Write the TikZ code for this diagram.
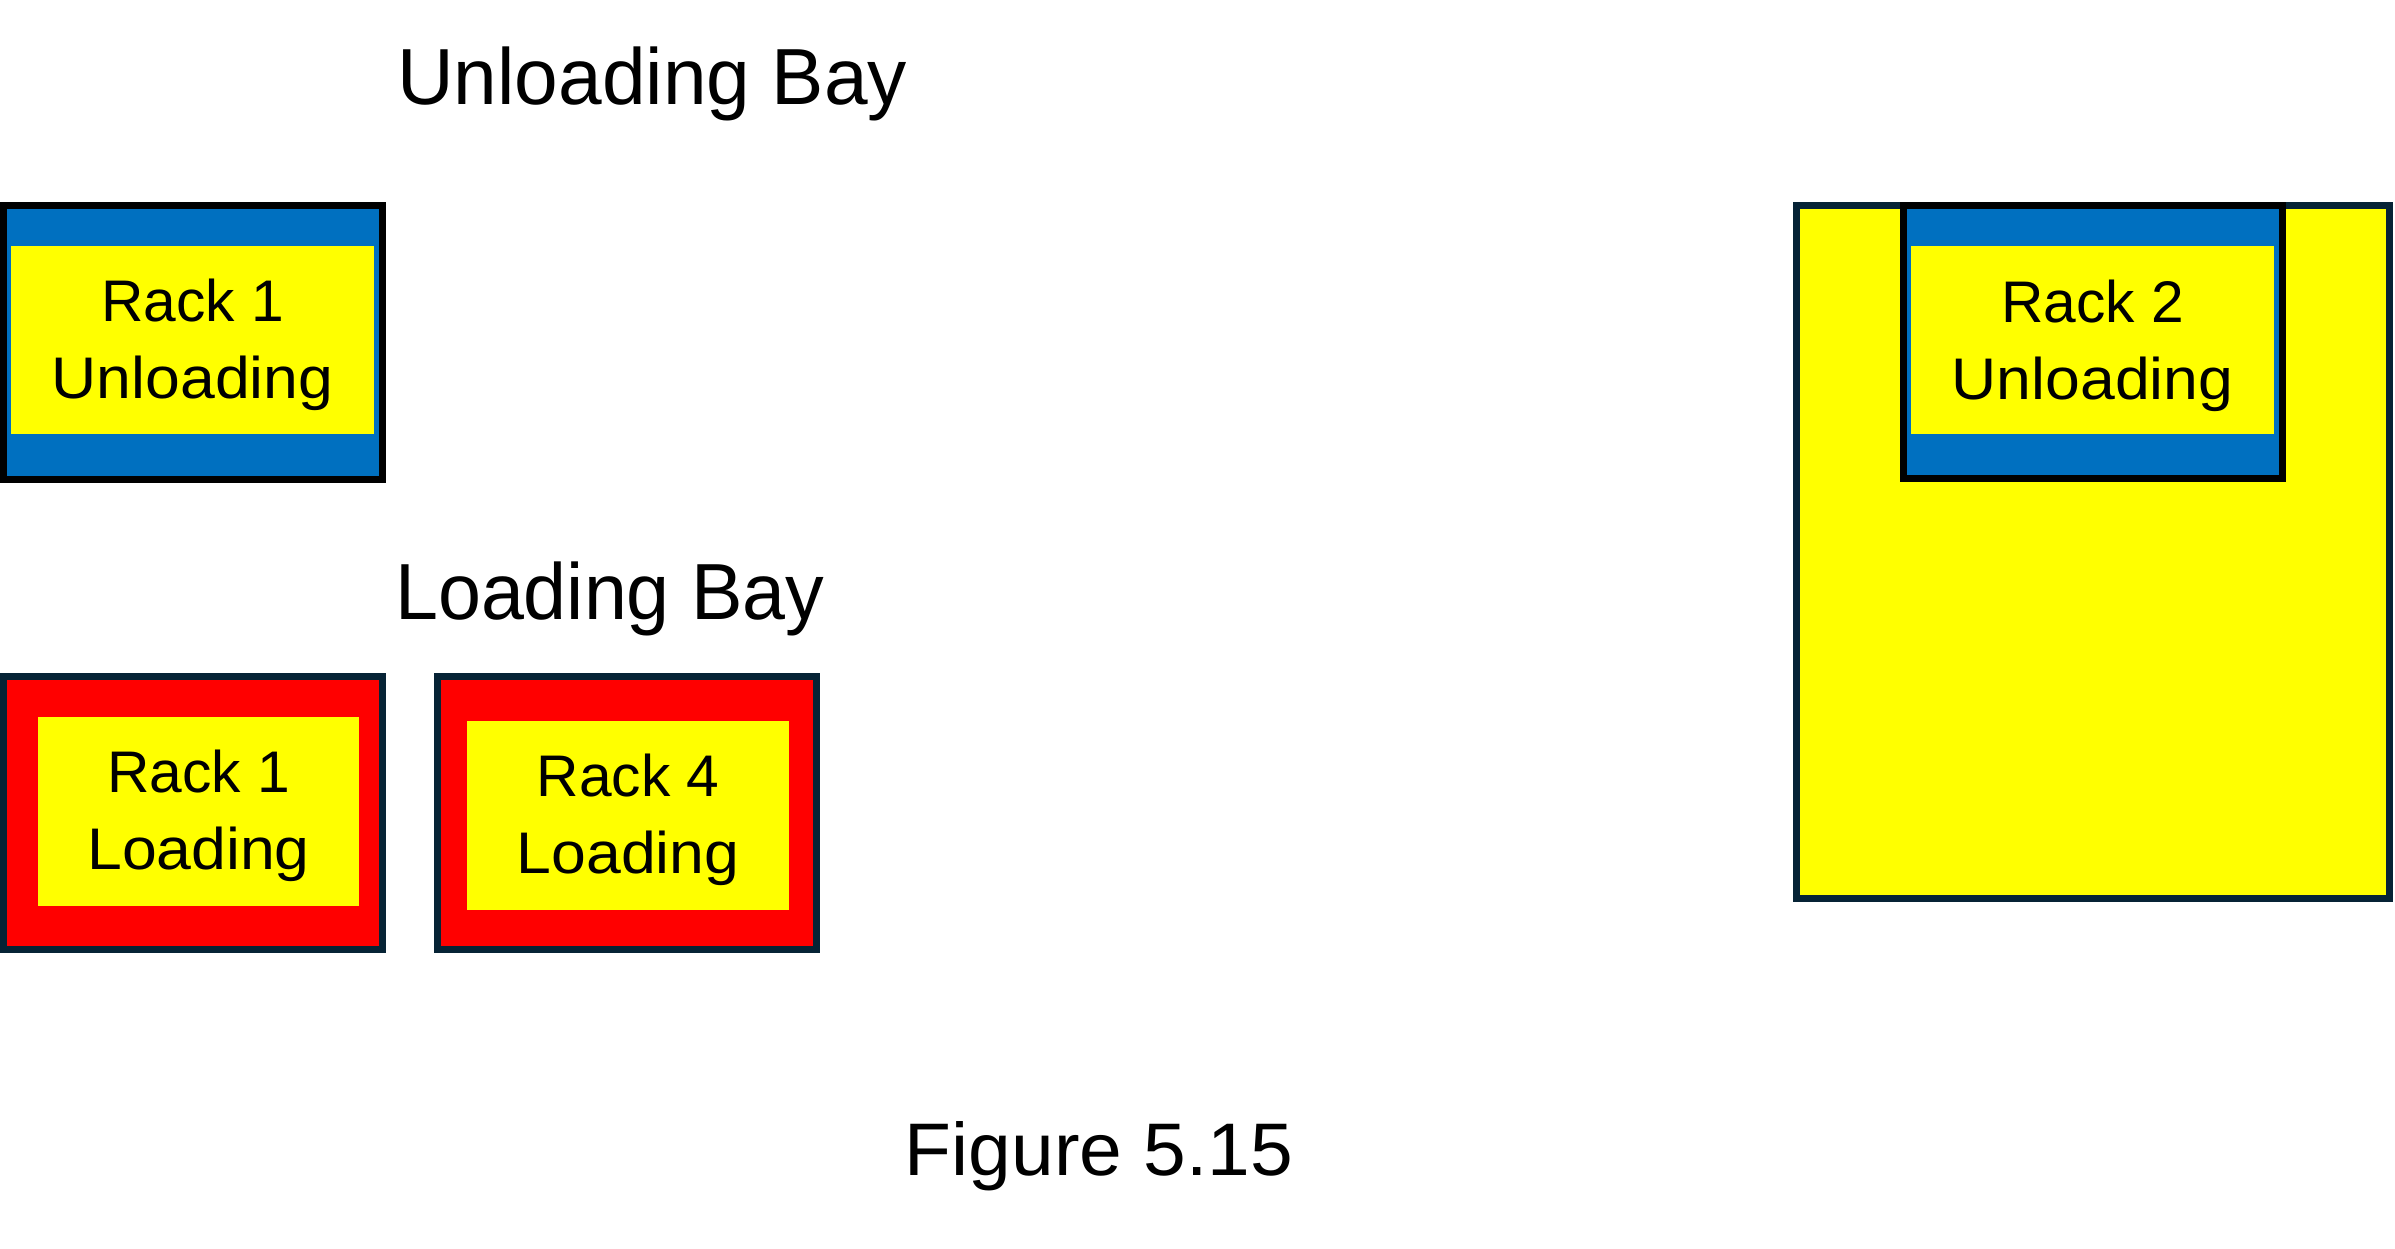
\documentclass[tikz,border=0pt]{standalone}
\usepackage{fontspec}
\setmainfont{Liberation Sans}
\usepackage{graphicx}
\definecolor{rackblue}{HTML}{0070C0}
\definecolor{rackyellow}{HTML}{FFFF00}
\definecolor{rackred}{HTML}{FF0000}
\definecolor{navy}{HTML}{062335}
\tikzset{
  unloadbox/.style={fill=rackblue, draw=black, line width=7pt},
  loadbox/.style={fill=rackred, draw=navy, line width=6.7pt},
  areabox/.style={fill=rackyellow, draw=navy, line width=6.7pt},
  innerbox/.style={fill=rackyellow},
  racktext/.style={anchor=base, inner sep=0pt, font=\fontsize{58.7}{70}\selectfont},
  baytext/.style={anchor=base west, inner sep=0pt, font=\fontsize{79.6}{90}\selectfont},
  figtext/.style={anchor=base, inner sep=0pt, font=\fontsize{74.5}{90}\selectfont}
}
\newcommand{\widetext}[1]{\scalebox{1.065}[1]{#1}}
\begin{document}
\begin{tikzpicture}[x=1pt, y=-1pt]
\useasboundingbox (0,0) rectangle (2395,1249);
\fill[white] (0,0) rectangle (2395,1249);

% titles
\node[baytext] (unbay) at (397,105) {\scalebox{0.985}[1]{Unloading Bay}};
\node[baytext] (ldbay) at (395,619) {\scalebox{0.97}[1]{Loading Bay}};
\node[figtext] (fig) at (1099,1175) {\scalebox{1.03}[1]{Figure 5.15}};

% Rack 1 Unloading
\draw[unloadbox] (3.5,205.5) rectangle (382,479.5);
\fill[innerbox] (11,246) rectangle (374,434);
\node[racktext] (r1u1) at (192.5,321) {Rack 1};
\node[racktext] (r1u2) at (192.5,398) {\widetext{Unloading}};

% Rack 1 Loading
\draw[loadbox] (3.35,676.35) rectangle (382.65,949.65);
\fill[innerbox] (38,717) rectangle (359,906);
\node[racktext] (r1l1) at (198.5,792) {Rack 1};
\node[racktext] (r1l2) at (198.5,869) {\widetext{Loading}};

% Rack 4 Loading
\draw[loadbox] (437.35,676.35) rectangle (816.65,949.65);
\fill[innerbox] (467,721) rectangle (789,910);
\node[racktext] (r4l1) at (628,796) {Rack 4};
\node[racktext] (r4l2) at (628,873) {\widetext{Loading}};

% Big area
\draw[areabox] (1796.35,205.35) rectangle (2389.65,898.65);

% Rack 2 Unloading
\draw[unloadbox] (1903.5,205.5) rectangle (2282.5,478.5);
\fill[innerbox] (1911,246) rectangle (2274,434);
\node[racktext] (r2u1) at (2092.5,322) {Rack 2};
\node[racktext] (r2u2) at (2092.5,399) {\widetext{Unloading}};
\end{tikzpicture}
\end{document}
